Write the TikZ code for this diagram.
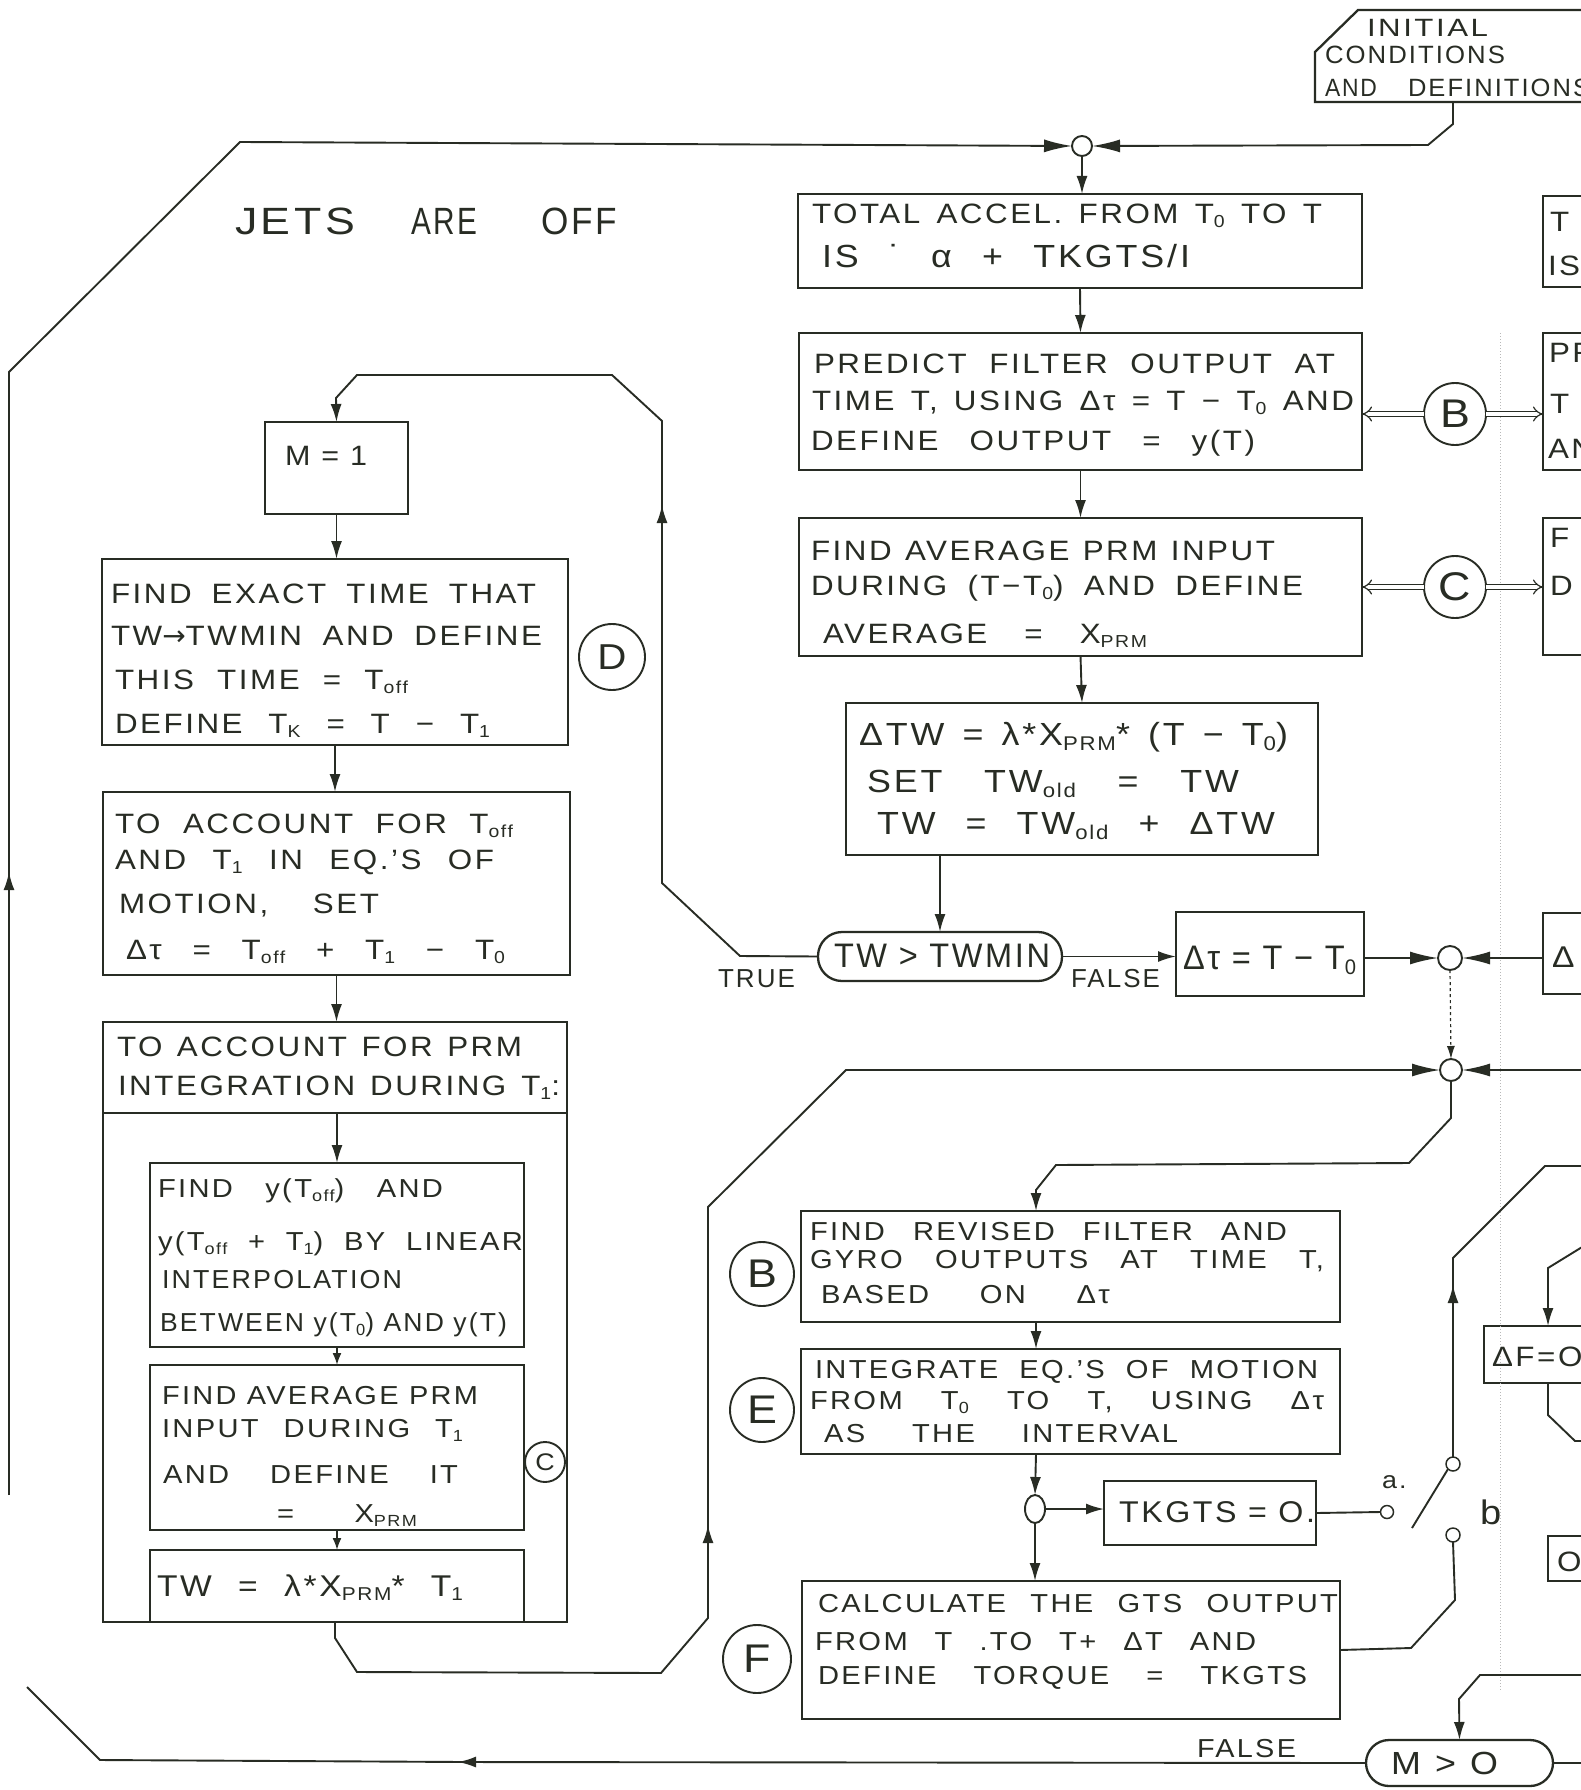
\documentclass[tikz,border=0pt]{standalone}
\usepackage{fontspec}
\setmainfont{Liberation Sans}[LetterSpace=9,FakeStretch=1.12]
\newfontfamily\dejavu{DejaVu Sans}
\usetikzlibrary{arrows.meta,shapes.geometric,calc}
\definecolor{ink}{RGB}{40,44,36}
\newsavebox\tlbox
\newcommand\fsz[1]{\fontsize{#1}{#1}\selectfont}
\newcommand\lo[1]{\raisebox{-0.3ex}{\scalebox{0.62}{#1}}}
\newcommand\fitline[2]{\sbox\tlbox{#2}\ifdim\wd\tlbox<#1pt\relax\makebox[#1pt][s]{#2}\else\resizebox{#1pt}{\height}{#2}\fi}
\newcommand\tline[5][]{\node[txt,#1] at (#2,#3) {\fitline{#4}{#5}};}
\newcommand\twd[5][]{\node[txt,#1] at (#2,#3) {\resizebox{#4pt}{\height}{#5}};}
\newcommand\bxat[6][]{\node[bx,anchor=north west,minimum width={(#5-#3)*1pt},minimum height={(#6-#4)*1pt},#1] (#2) at (#3,#4) {};}
\begin{document}
\begin{tikzpicture}[x=1pt,y=-1pt,
  bx/.style={draw=ink,rectangle,inner sep=0pt,outer sep=0pt,line width=2.3pt},
  circ/.style={draw=ink,circle,inner sep=0pt,outer sep=0pt,line width=1.9pt,text=ink},
  txt/.style={anchor=base west,inner sep=0pt,outer sep=0pt,text=ink},
  con/.style={draw=ink,line width=1.9pt},
  arr/.style={con,-{Latex[length=18pt,width=11pt]}},
  sarr/.style={con,-{Latex[length=12pt,width=9pt]}},
  bow/.style={con,-{Latex[length=28pt,width=13pt]}},
  dbl/.style={draw=ink,line width=1.2pt,double=white,double distance=4pt,-{Implies}},
  font=\fsz{28}]
\useasboundingbox (0,0) rectangle (1581,1790);
\fill[white] (0,0) rectangle (1581,1790);
\clip (0,0) rectangle (1581,1790);

% ---------- boxes ----------
\bxat{acc}{798}{194}{1362}{288}
\bxat{pred}{799}{333}{1362}{470}
\bxat{avg}{799}{518}{1362}{656}
\bxat{dtw}{846}{703}{1318}{855}
\bxat[rounded corners=24pt]{tw}{818}{932}{1062}{981}
\bxat{dtau}{1176}{912}{1364}{996}
\bxat{m1}{265}{422}{408}{514}
\bxat{fex}{102}{559}{568}{745}
\bxat{acct}{103}{792}{570}{975}
\bxat{prm}{103}{1022}{567}{1622}
\bxat{prmh}{103}{1022}{567}{1113}
\bxat{prma}{150}{1163}{524}{1347}
\bxat{prmb}{150}{1365}{524}{1530}
\bxat{prmc}{150}{1550}{524}{1622}
\bxat{rB}{801}{1211}{1340}{1322}
\bxat{rE}{801}{1349}{1340}{1454}
\bxat{tk}{1104}{1481}{1316}{1545}
\bxat{rF}{802}{1581}{1340}{1719}
\bxat[rounded corners=23pt]{mgt}{1366}{1740}{1553}{1786}
\bxat{pa}{1543}{196}{1640}{287}
\bxat{pb}{1543}{333}{1640}{470}
\bxat{pc}{1543}{518}{1640}{655}
\bxat{pd}{1543}{913}{1640}{994}
\bxat{dF}{1484}{1326}{1640}{1383}
\bxat{ob}{1548}{1536}{1640}{1581}
\draw[line width=2.3pt,draw=ink] (1640,10) -- (1358,10) -- (1315,52) -- (1315,102) -- (1640,102);
\coordinate (initbot) at (1453,102);

% ---------- circles ----------
\node[circ,minimum size=20pt] (jtop) at (1082,146) {};
\node[circ,minimum size=24pt] (j2) at (1450,958) {};
\node[circ,minimum size=22pt] (j3) at (1451,1070) {};
\node[draw=ink,ellipse,line width=1.9pt,minimum width=20pt,minimum height=28pt,inner sep=0pt,outer sep=0pt] (js) at (1035,1509) {};
\node[circ,minimum size=62pt,font=\fsz{40}] (cB1) at (1455,414) {B};
\node[circ,minimum size=62pt,font=\fsz{40}] (cC1) at (1455,587) {C};
\node[circ,minimum size=66pt,font=\fsz{36}] (cD) at (612,657) {D};
\node[circ,minimum size=40pt,font=\fsz{24}] (cC2) at (545,1462) {C};
\node[circ,minimum size=64pt,font=\fsz{40}] (cB2) at (762,1274) {B};
\node[circ,minimum size=64pt,font=\fsz{40}] (cE) at (762,1410) {E};
\node[circ,minimum size=68pt,font=\fsz{40}] (cF) at (757,1659) {F};
\node[circ,minimum size=13pt,line width=1.5pt] (ta) at (1387,1512) {};
\node[circ,minimum size=14pt,line width=1.5pt] (tu) at (1453,1464) {};
\node[circ,minimum size=14pt,line width=1.5pt] (tb) at (1453,1535) {};
\coordinate (xB) at (1036,0);
\coordinate (xF) at (1548,0);

% ---------- faint guide ----------
\draw[gray!55,line width=1pt,dotted] (1500,333) -- (1500,1690);

% ---------- connectors ----------
\draw[bow] (initbot) -- (1453,124) -- (1428,145) -- (jtop.east);
\draw[arr] (9,1495) -- (9,872);
\draw[bow] (9,882) -- (9,372) -- (240,142) -- (jtop.west);
\draw[arr] (mgt.west) -- (458,1762);
\draw[con] (466,1762) -- (100,1760) -- (27,1687);
\draw[arr] (jtop.south) -- (jtop.south |- acc.north);
\draw[arr] (acc.south) -- (pred.north);
\draw[arr] (pred.south) -- (avg.north);
\draw[arr] (avg.south) -- (dtw.north);
\draw[arr] (dtw.south -| tw.north) -- (tw.north);
\draw[arr] (tw.east) -- (tw.east -| dtau.west);
\draw[arr] (tw.west) -- (740,956) -- (662,883) -- (662,505);
\draw[arr] (662,515) -- (662,421) -- (612,375) -- (357,375) -- (336,398) -- (m1.north);
\draw[arr] (m1.south) -- (m1.south |- fex.north);
\draw[arr] (fex.south) -- (fex.south |- acct.north);
\draw[arr] (acct.south) -- (acct.south |- prm.north);
\draw[arr] (prmh.south -| prma.north) -- (prma.north);
\draw[sarr] (prma.south) -- (prmb.north);
\draw[sarr] (prmb.south) -- (prmc.north);
\draw[arr] (prm.south) -- (335,1638) -- (357,1672) -- (661,1673) -- (708,1618) -- (708,1525);
\draw[bow] (708,1535) -- (708,1207) -- (846,1070) -- (j3.west);
\draw[bow] (1600,1070) -- (j3.east);
\draw[bow] (dtau.east |- j2) -- (j2.west);
\draw[bow] (pd.west |- j2) -- (j2.east);
\draw[draw=ink,line width=1.2pt,dashed,-{Latex[length=13pt,width=8pt]}] (j2.south) -- (j3.north);
\draw[arr] (j3.south) -- (1451,1118) -- (1409,1163) -- (1056,1165) -- (1036,1190) -- (xB |- rB.north);
\draw[arr] (xB |- rB.south) -- (xB |- rE.north);
\draw[arr] (xB |- rE.south) -- (js.north);
\draw[arr] (js.east) -- (js.east -| tk.west);
\draw[arr] (js.south) -- (js.south |- rF.north);
\draw[con] (tk.east) -- (ta.west);
\draw[con] (1412,1528) -- (tu.south west);
\draw[arr] (tu.north) -- (1453,1285);
\draw[con] (1453,1295) -- (1453,1258) -- (1545,1166) -- (1600,1166);
\draw[con] (rF.east) -- (1411,1648) -- (1455,1600) -- (tb.south);
\draw[arr] (1600,1236) -- (1548,1268) -- (xF |- dF.north);
\draw[con] (xF |- dF.south) -- (1548,1415) -- (1575,1441) -- (1600,1441);
\draw[arr] (1600,1675) -- (1480,1675) -- (1459,1699) -- (mgt.north);
\draw[con] (mgt.east) -- (1600,1763);
\draw[dbl] (cB1.west) -- (pred.east |- cB1);
\draw[dbl] (cB1.east) -- (pb.west |- cB1);
\draw[dbl] (cC1.west) -- (avg.east |- cC1);
\draw[dbl] (cC1.east) -- (pc.west |- cC1);

% ---------- texts ----------
\twd[font=\fsz{25}]{1367}{37}{121}{INITIAL}
\twd[font=\fsz{25}]{1325}{64}{180}{CONDITIONS}
\twd[font=\fsz{25}]{1325}{97}{52}{AND}
\twd[font=\fsz{25}]{1408}{97}{182}{DEFINITIONS}

\twd[font=\fsz{38}]{235}{234}{120}{JETS}
\twd[font=\fsz{38}]{411}{234}{66}{ARE}
\twd[font=\fsz{38}]{541}{234}{76}{OFF}

\tline{812}{223}{510}{TOTAL ACCEL. FROM T\lo{0} TO T}
\tline[font=\fsz{32}]{822}{267}{368}{IS ˙ α + TKGTS/I}
\tline{814}{373}{521}{PREDICT FILTER OUTPUT AT}
\tline{812}{410}{542}{TIME T, USING Δτ = T − T\lo{0} AND}
\tline{811}{450}{444}{DEFINE OUTPUT = y(T)}
\tline{811}{560}{464}{FIND AVERAGE PRM INPUT}
\tline{811}{595}{492}{DURING (T−T\lo{0}) AND DEFINE}
\tline{823}{643}{324}{AVERAGE = X\lo{PRM}}
\tline[font=\fsz{32}]{859}{745}{429}{ΔTW = λ*X\lo{PRM}* (T − T\lo{0})}
\tline[font=\fsz{32}]{867}{792}{372}{SET TW\lo{old} = TW}
\tline[font=\fsz{32}]{877}{834}{398}{TW = TW\lo{old} + ΔTW}
\tline[font=\fsz{34}]{834}{967}{216}{TW > TWMIN}
\tline[font=\fsz{34}]{1183}{969}{173}{Δτ = T − T\lo{0}}
\twd[font=\fsz{26}]{718}{987}{77}{TRUE}
\twd[font=\fsz{26}]{1071}{987}{89}{FALSE}

\tline{285}{465}{82}{M = 1}
\tline{111}{603}{425}{FIND EXACT TIME THAT}
\tline{111}{645}{431}{TW{\dejavu →}TWMIN AND DEFINE}
\tline{115}{689}{293}{THIS TIME = T\lo{off}}
\tline{115}{733}{375}{DEFINE T\lo{K} = T − T\lo{1}}
\tline{115}{833}{398}{TO ACCOUNT FOR T\lo{off}}
\tline{115}{869}{379}{AND T\lo{1} IN EQ.'S OF}
\tline{119}{913}{260}{MOTION, SET}
\tline{126}{959}{379}{Δτ = T\lo{off} + T\lo{1} − T\lo{0}}
\tline{117}{1056}{405}{TO ACCOUNT FOR PRM}
\tline{118}{1095}{442}{INTEGRATION DURING T\lo{1}:}
\tline[font=\fsz{26}]{158}{1197}{285}{FIND y(T\lo{off}) AND}
\tline[font=\fsz{26}]{158}{1250}{365}{y(T\lo{off} + T\lo{1}) BY LINEAR}
\twd[font=\fsz{26}]{162}{1288}{240}{INTERPOLATION}
\tline[font=\fsz{26}]{160}{1331}{347}{BETWEEN y(T\lo{0}) AND y(T)}
\tline[font=\fsz{26}]{162}{1404}{316}{FIND AVERAGE PRM}
\tline[font=\fsz{26}]{162}{1437}{301}{INPUT DURING T\lo{1}}
\tline[font=\fsz{26}]{163}{1483}{295}{AND DEFINE IT}
\tline[font=\fsz{26}]{277}{1522}{140}{= X\lo{PRM}}
\tline[font=\fsz{30}]{157}{1596}{306}{TW = λ*X\lo{PRM}* T\lo{1}}

\tline[font=\fsz{26}]{810}{1240}{477}{FIND REVISED FILTER AND}
\tline[font=\fsz{26}]{810}{1268}{514}{GYRO OUTPUTS AT TIME T,}
\tline[font=\fsz{26}]{821}{1303}{289}{BASED ON Δτ}
\tline[font=\fsz{26}]{815}{1378}{503}{INTEGRATE EQ.'S OF MOTION}
\tline[font=\fsz{26}]{810}{1409}{514}{FROM T\lo{0} TO T, USING Δτ}
\tline[font=\fsz{26}]{824}{1442}{354}{AS THE INTERVAL}
\tline[font=\fsz{30}]{1119}{1522}{196}{TKGTS = O.}
\tline[font=\fsz{26}]{818}{1612}{520}{CALCULATE THE GTS OUTPUT}
\tline[font=\fsz{26}]{815}{1650}{441}{FROM T .TO T+ ΔT AND}
\tline[font=\fsz{26}]{818}{1684}{489}{DEFINE TORQUE = TKGTS}
\tline[font=\fsz{32}]{1391}{1774}{107}{M > O}
\twd[font=\fsz{26}]{1197}{1757}{99}{FALSE}
\node[txt,font=\fsz{24}] at (1382,1488) {a.};
\node[txt,font=\fsz{34}] at (1480,1524) {b};

\node[txt] at (1550,231) {T};
\node[txt] at (1548,275) {IS};
\node[txt] at (1549,362) {PR};
\node[txt] at (1550,413) {T};
\node[txt] at (1548,458) {AN};
\node[txt] at (1550,547) {F};
\node[txt] at (1550,595) {D};
\node[txt,font=\fsz{30}] at (1552,967) {Δ};
\node[txt] at (1492,1366) {ΔF=O};
\node[txt] at (1557,1571) {O};
\end{tikzpicture}
\end{document}
